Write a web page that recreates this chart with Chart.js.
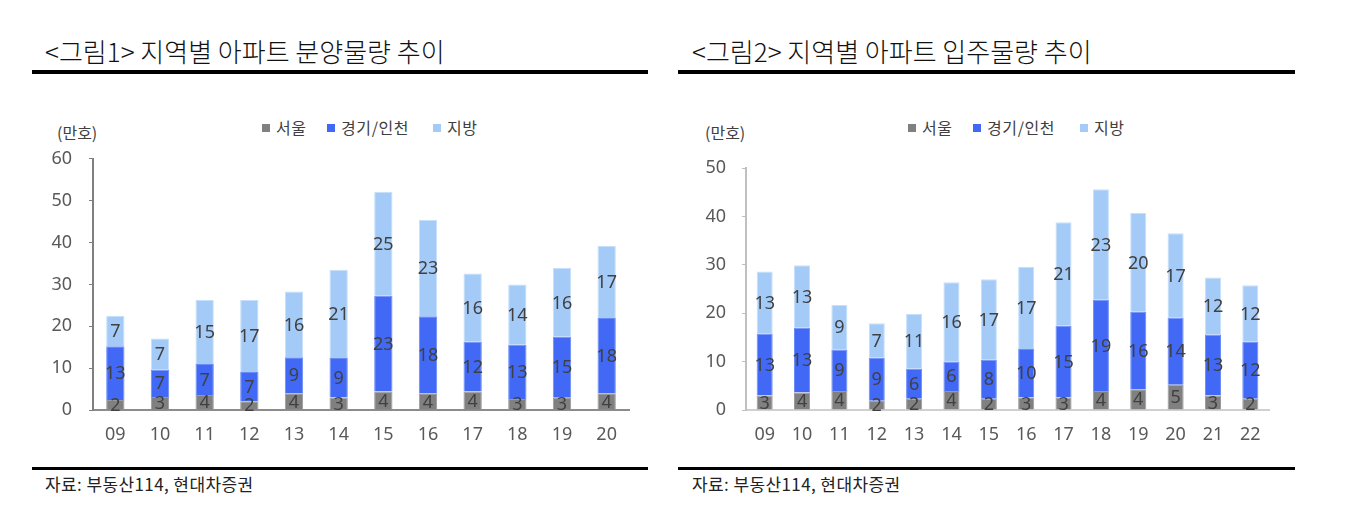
<!DOCTYPE html>
<html>
<head>
<meta charset="utf-8">
<script src="https://cdn.jsdelivr.net/npm/chart.js@4.4.0/dist/chart.umd.min.js"></script>
<style>
    body { margin: 0; width: 1348px; height: 528px; background: #fff; position: relative; overflow: hidden;
           font-family: "Noto Sans CJK KR", "Noto Sans", sans-serif; color: #222; }
    .title { position: absolute; top: 32px; font-size: 26px; font-weight: 300; line-height: 38px; white-space: nowrap; color: #111; }
    .rule { position: absolute; background: #000; }
    .unit { position: absolute; top: 120px; font-size: 16px; line-height: 24px; color: #404040; }
    .lg { position: absolute; top: 115px; font-size: 16px; line-height: 24px; letter-spacing: 0.6px; color: #404040; white-space: nowrap; }
    .lg i { display: inline-block; width: 8px; height: 8px; margin-right: 6px; vertical-align: 2px; }
    .src { position: absolute; top: 471px; font-size: 17px; line-height: 25px; letter-spacing: 0.4px; color: #222; }
    canvas { position: absolute; }
</style>
</head>
<body>
<div class="title" style="left:45px">&lt;그림1&gt; 지역별 아파트 분양물량 추이</div>
<div class="rule" style="left:32px; width:616px; top:70px; height:4px"></div>
<div class="unit" style="left:57px">(만호)</div>
<div class="lg" style="left:262px"><i style="background:#808080"></i>서울</div>
<div class="lg" style="left:327px"><i style="background:#4169f5"></i>경기/인천</div>
<div class="lg" style="left:433px"><i style="background:#a4cbf7"></i>지방</div>
<canvas id="chart-supply" width="620" height="329" style="left:30px; top:131px"></canvas>
<div class="rule" style="left:32px; width:616px; top:467px; height:3px"></div>
<div class="src" style="left:45px">자료: 부동산114, 현대차증권</div>

<div class="title" style="left:692px">&lt;그림2&gt; 지역별 아파트 입주물량 추이</div>
<div class="rule" style="left:678px; width:617px; top:70px; height:4px"></div>
<div class="unit" style="left:705px">(만호)</div>
<div class="lg" style="left:908px"><i style="background:#808080"></i>서울</div>
<div class="lg" style="left:973px"><i style="background:#4169f5"></i>경기/인천</div>
<div class="lg" style="left:1080px"><i style="background:#a4cbf7"></i>지방</div>
<canvas id="chart-movein" width="620" height="320" style="left:680px; top:140px"></canvas>
<div class="rule" style="left:678px; width:617px; top:467px; height:3px"></div>
<div class="src" style="left:692px">자료: 부동산114, 현대차증권</div>

<script>
// 분양물량 (만호)
const years1 = ["09", "10", "11", "12", "13", "14", "15", "16", "17", "18", "19", "20"];
const seoul1 = [2.4, 3.1, 3.6, 2.1, 4.0, 3.0, 4.4, 4.0, 4.4, 2.6, 2.9, 4.0];
const gyeonggi1 = [12.8, 6.6, 7.4, 7.0, 8.6, 9.4, 22.9, 18.4, 11.9, 13.0, 14.6, 18.0];
const jibang1 = [7.3, 7.4, 15.3, 17.2, 15.7, 21.1, 24.8, 23.0, 16.3, 14.4, 16.4, 17.2];

// 입주물량 (만호)
const years2 = ["09", "10", "11", "12", "13", "14", "15", "16", "17", "18", "19", "20", "21", "22"];
const seoul2 = [3.0, 3.6, 3.9, 1.9, 2.3, 3.9, 2.3, 2.6, 2.6, 3.9, 4.3, 5.2, 3.0, 2.3];
const gyeonggi2 = [12.8, 13.4, 8.6, 8.9, 6.2, 6.1, 8.1, 10.0, 14.8, 18.9, 16.0, 13.9, 12.6, 11.8];
const jibang2 = [12.8, 12.9, 9.2, 7.1, 11.4, 16.4, 16.6, 17.0, 21.4, 22.8, 20.4, 17.4, 11.8, 11.7];

const colors = ["#808080", "#4169f5", "#a4cbf7"];
const edges = ["#9a9a9a", "#6a8cf7", "#c6dffa"];
const names = ["서울", "경기/인천", "지방"];

// number written in the middle of each stacked piece
const segLabels = {
    id: "segLabels",
    afterDatasetsDraw(chart) {
        const ctx = chart.ctx;
        ctx.save();
        ctx.font = '18px "Noto Sans"';
        ctx.fillStyle = "#404040";
        ctx.textAlign = "center";
        ctx.textBaseline = "middle";
        chart.data.datasets.forEach((ds, i) => {
            chart.getDatasetMeta(i).data.forEach((bar, j) => {
                const c = bar.getCenterPoint();
                ctx.fillText(Math.round(ds.data[j]), c.x, c.y + 1);
            });
        });
        ctx.restore();
    }
};

function makeChart(id, labels, series, opt) {
    new Chart(document.getElementById(id).getContext("2d"), {
        type: "bar",
        data: {
            labels: labels,
            datasets: series.map((d, i) => ({
                label: names[i],
                data: d,
                backgroundColor: colors[i],
                borderColor: edges[i],
                borderWidth: 1,
                barPercentage: opt.bar,
                categoryPercentage: 1
            }))
        },
        options: {
            responsive: false,
            animation: false,
            layout: {padding: {top: opt.top, right: opt.right, left: 0, bottom: 0}},
            plugins: {legend: {display: false}, tooltip: {enabled: false}},
            scales: {
                x: {
                    stacked: true,
                    grid: {display: false, drawTicks: false},
                    border: {display: true, color: opt.xLine, width: 2},
                    ticks: {color: "#595959", font: {family: "Noto Sans", size: 18}, padding: 14},
                    afterFit: s => { s.height = 50; }
                },
                y: {
                    stacked: true,
                    min: 0,
                    max: opt.max,
                    grid: {drawOnChartArea: false, drawTicks: true, tickLength: 4, color: opt.yLine},
                    border: {display: true, color: opt.yLine, width: 2},
                    ticks: {stepSize: 10, color: "#595959", font: {family: "Noto Sans", size: 18}, padding: opt.tickPad},
                    afterFit: s => { s.width = opt.axisW; }
                }
            }
        },
        plugins: [segLabels]
    });
}

makeChart("chart-supply", years1, [seoul1, gyeonggi1, jibang1],
    {max: 60, bar: 0.41, top: 15, right: 21, axisW: 63, tickPad: 17, xLine: "#8c8c8c", yLine: "#7f7f7f"});
makeChart("chart-movein", years2, [seoul2, gyeonggi2, jibang2],
    {max: 50, bar: 0.43, top: 28, right: 31, axisW: 66, tickPad: 16, xLine: "#d0d0d0", yLine: "#bfbfbf"});
</script>
</body>
</html>
